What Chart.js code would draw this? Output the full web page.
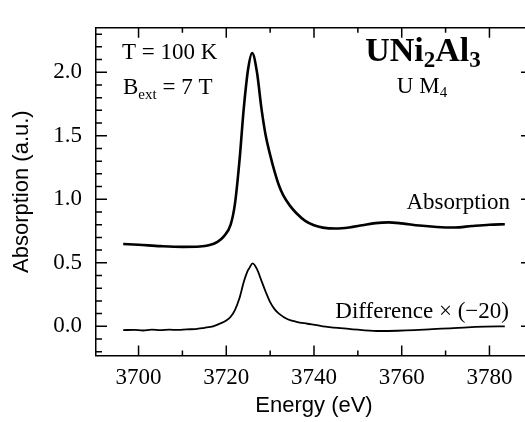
<!DOCTYPE html>
<html>
<head>
<meta charset="utf-8">
<script src="https://cdn.jsdelivr.net/npm/chart.js@4/dist/chart.umd.min.js"></script>
<style>
  html, body { margin: 0; padding: 0; background: #fff; overflow: hidden; }
  #wrap { position: absolute; left: 0; top: 0; width: 540px; height: 422px; }
</style>
</head>
<body>
<div id="wrap"><canvas id="myChart" width="540" height="422"></canvas></div>
<script>
// absorption spectrum (eV, a.u.)
const energyAbs = [3696.5, 3700, 3705, 3710, 3714, 3716, 3718, 3719.5, 3721, 3722, 3723, 3724, 3725, 3725.9,
    3727, 3728, 3729, 3730, 3731, 3732, 3733, 3734.5, 3736, 3738, 3740, 3742, 3745, 3748, 3751, 3754, 3757,
    3760, 3764, 3768, 3772, 3776, 3780, 3783.5];
const absorption = [0.648, 0.642, 0.631, 0.625, 0.628, 0.638, 0.665, 0.71, 0.80, 0.97, 1.30, 1.72, 2.03, 2.152,
    2.00, 1.72, 1.50, 1.35, 1.22, 1.11, 1.03, 0.95, 0.89, 0.83, 0.795, 0.777, 0.770, 0.778, 0.795, 0.812, 0.818,
    0.81, 0.793, 0.782, 0.778, 0.79, 0.80, 0.803];

// difference x (-20)
const energyDiff = [3696.5, 3699, 3701, 3703, 3705, 3707, 3709, 3711, 3713, 3715, 3717, 3718.5, 3720, 3721, 3722,
    3723, 3724, 3724.8, 3725.3, 3726, 3727, 3728, 3729, 3730, 3731, 3732, 3734, 3736, 3738.5, 3742, 3746, 3751,
    3755, 3759, 3763, 3767, 3771, 3775, 3779, 3783.5];
const difference = [-0.030, -0.028, -0.033, -0.027, -0.031, -0.026, -0.029, -0.024, -0.022, -0.012, 0.000, 0.02,
    0.045, 0.075, 0.13, 0.22, 0.35, 0.43, 0.46, 0.495, 0.45, 0.36, 0.27, 0.19, 0.135, 0.10, 0.055, 0.035, 0.02,
    0.0, -0.015, -0.03, -0.037, -0.035, -0.03, -0.022, -0.016, -0.008, -0.003, 0.0];

const xMajorTicks = [3700, 3720, 3740, 3760, 3780];
const xMinorTicks = [3710, 3730, 3750, 3770, 3790];
const yMajorTicks = [0.0, 0.5, 1.0, 1.5, 2.0];
const yMinorTicks = [-0.2, -0.1, 0.1, 0.2, 0.3, 0.4, 0.6, 0.7, 0.8, 0.9, 1.1, 1.2, 1.3, 1.4, 1.6, 1.7, 1.8, 1.9, 2.1, 2.2, 2.3];

const serif = '"Liberation Serif", "Times New Roman", serif';
const sans = '"Liberation Sans", Arial, sans-serif';

function toPoints(xs, ys) {
    return xs.map((x, i) => ({ x: x, y: ys[i] }));
}

// draw text runs (normal / subscript) one after another
function drawRuns(ctx, runs, x, y, align) {
    let total = 0;
    runs.forEach(r => { ctx.font = r.font; total += ctx.measureText(r.text).width; });
    let cx = align === 'right' ? x - total : (align === 'center' ? x - total / 2 : x);
    runs.forEach(r => {
        ctx.font = r.font;
        ctx.fillText(r.text, cx, y + (r.dy || 0));
        cx += ctx.measureText(r.text).width;
    });
}

const frameTicks = {
    id: 'frameTicks',
    afterDraw(chart) {
        const ctx = chart.ctx;
        const area = chart.chartArea;
        const xs = chart.scales.x;
        const ys = chart.scales.y;
        ctx.save();
        ctx.strokeStyle = '#000';
        ctx.lineWidth = 1.5;
        ctx.beginPath();
        // top and right frame
        ctx.moveTo(area.left, area.top);
        ctx.lineTo(area.right, area.top);
        ctx.lineTo(area.right, area.bottom);
        const tick = (vals, len, isX) => {
            vals.forEach(v => {
                if (isX) {
                    const px = xs.getPixelForValue(v);
                    ctx.moveTo(px, area.bottom); ctx.lineTo(px, area.bottom - len);
                    ctx.moveTo(px, area.top); ctx.lineTo(px, area.top + len);
                } else {
                    const py = ys.getPixelForValue(v);
                    ctx.moveTo(area.left, py); ctx.lineTo(area.left + len, py);
                    ctx.moveTo(area.right, py); ctx.lineTo(area.right - len, py);
                }
            });
        };
        tick(xMajorTicks, 10, true);
        tick(xMinorTicks, 5, true);
        tick(yMajorTicks, 11, false);
        tick(yMinorTicks, 6, false);
        ctx.stroke();

        // labels inside the plot
        ctx.fillStyle = '#000';
        ctx.textBaseline = 'alphabetic';
        const f = '23px ' + serif;
        const fs = '15px ' + serif;
        drawRuns(ctx, [{ text: 'T = 100 K', font: f }], 122, 59, 'left');
        drawRuns(ctx, [{ text: 'B', font: f }, { text: 'ext', font: fs, dy: 5 }, { text: ' = 7 T', font: f }], 123, 94, 'left');
        const fb = 'bold 34px ' + serif;
        const fbs = 'bold 23px ' + serif;
        drawRuns(ctx, [{ text: 'UNi', font: fb }, { text: '2', font: fbs, dy: 6 }, { text: 'Al', font: fb },
            { text: '3', font: fbs, dy: 6 }], 423, 61, 'center');
        drawRuns(ctx, [{ text: 'U M', font: f }, { text: '4', font: fs, dy: 4 }], 422, 93, 'center');
        drawRuns(ctx, [{ text: 'Absorption', font: f }], 510, 209, 'right');
        drawRuns(ctx, [{ text: 'Difference \u00d7 (\u221220)', font: f }], 509, 318, 'right');
        ctx.restore();
    }
};

const ctx = document.getElementById('myChart').getContext('2d');
const myChart = new Chart(ctx, {
    type: 'scatter',
    data: {
        datasets: [{
            label: 'Absorption',
            data: toPoints(energyAbs, absorption),
            showLine: true,
            borderColor: '#000',
            borderWidth: 2.6,
            pointRadius: 0,
            cubicInterpolationMode: 'monotone'
        }, {
            label: 'Difference',
            data: toPoints(energyDiff, difference),
            showLine: true,
            borderColor: '#000',
            borderWidth: 1.8,
            pointRadius: 0,
            cubicInterpolationMode: 'monotone'
        }]
    },
    options: {
        responsive: false,
        animation: false,
        layout: { padding: { top: 7, right: 8, left: 0, bottom: 0 } },
        plugins: {
            legend: { display: false },
            tooltip: { enabled: false }
        },
        scales: {
            x: {
                type: 'linear',
                min: 3690.3,
                max: 3789.7,
                afterFit: s => { s.height = 66.5; },
                afterBuildTicks: s => { s.ticks = xMajorTicks.map(v => ({ value: v })); },
                grid: { display: false, drawTicks: false },
                border: { display: true, color: '#000', width: 1.5 },
                ticks: {
                    color: '#000',
                    font: { family: serif, size: 23 },
                    padding: 9,
                    maxRotation: 0,
                    callback: v => String(v)
                },
                title: {
                    display: true,
                    text: 'Energy (eV)',
                    color: '#000',
                    font: { family: sans, size: 22 },
                    padding: { top: 0, bottom: 3 }
                }
            },
            y: {
                type: 'linear',
                min: -0.23,
                max: 2.35,
                afterFit: s => { s.width = 96; },
                afterBuildTicks: s => { s.ticks = yMajorTicks.map(v => ({ value: v })); },
                grid: { display: false, drawTicks: false },
                border: { display: true, color: '#000', width: 1.5 },
                ticks: {
                    color: '#000',
                    font: { family: serif, size: 23 },
                    padding: 14,
                    callback: v => v.toFixed(1)
                },
                title: {
                    display: true,
                    text: 'Absorption (a.u.)',
                    color: '#000',
                    font: { family: sans, size: 22 },
                    padding: { top: 9, bottom: 0 }
                }
            }
        }
    },
    plugins: [frameTicks]
});
</script>
</body>
</html>
